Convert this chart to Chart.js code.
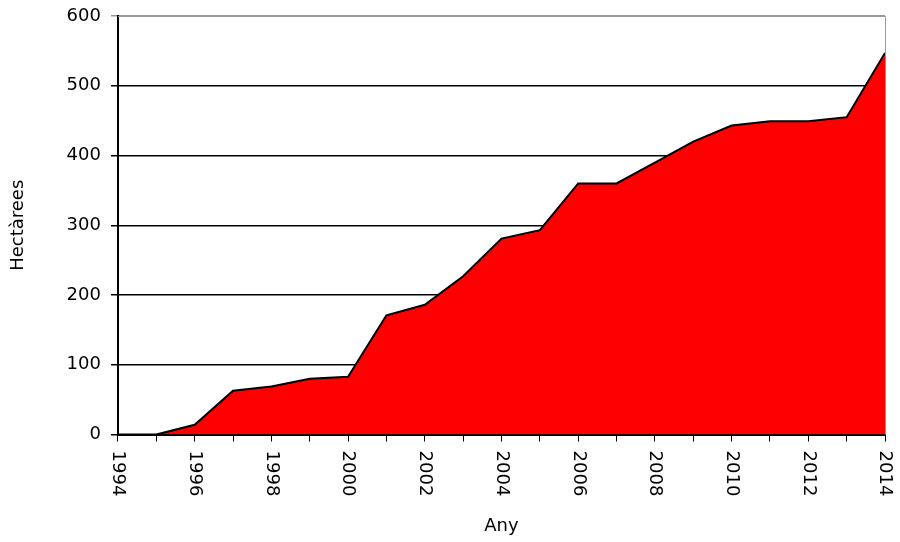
<!DOCTYPE html>
<html lang="ca">
<head>
    <title>Hectàrees per any</title>
    <script src="https://cdn.jsdelivr.net/npm/chart.js"></script>
    <style>
        body { margin: 0; background: #fff; }
        #wrap { width: 900px; height: 542px; }
    </style>
</head>
<body>
    <div id="wrap"><canvas id="areaChart" width="900" height="542"></canvas></div>

    <script>
        var years = ['1994', '1995', '1996', '1997', '1998', '1999', '2000', '2001', '2002', '2003', '2004',
                     '2005', '2006', '2007', '2008', '2009', '2010', '2011', '2012', '2013', '2014'];
        var hectares = [0, 0, 14, 63, 69, 80, 83, 171, 186, 227, 281,
                        293, 360, 360, 390, 420, 443, 449, 449, 455, 547];
        var yTicks = [0, 100, 200, 300, 400, 500, 600];

        var fontFamily = '"DejaVu Sans", sans-serif';

        // draws the x labels turned clockwise (reading top to bottom) + grey frame
        var customDraw = {
            id: 'customDraw',
            afterDraw: function(chart) {
                var c = chart.ctx;
                var area = chart.chartArea;
                var xs = chart.scales.x;
                c.save();
                c.strokeStyle = '#999999';
                c.lineWidth = 1;
                c.beginPath();
                c.moveTo(area.left, area.top + 0.5);
                c.lineTo(area.right + 0.5, area.top + 0.5);
                c.lineTo(area.right + 0.5, area.bottom);
                c.stroke();
                c.fillStyle = '#000';
                c.font = '18px ' + fontFamily;
                c.textAlign = 'left';
                c.textBaseline = 'middle';
                for (var i = 0; i < years.length; i += 2) {
                    var x = xs.getPixelForValue(i);
                    c.save();
                    c.translate(x, area.bottom + 16);
                    c.rotate(Math.PI / 2);
                    c.fillText(years[i], 0, 0);
                    c.restore();
                }
                c.restore();
            }
        };

        var ctx = document.getElementById('areaChart').getContext('2d');
        var myChart = new Chart(ctx, {
            type: 'line',
            data: {
                labels: years,
                datasets: [{
                    label: 'Hectàrees',
                    data: hectares,
                    backgroundColor: '#ff0000',
                    borderColor: '#000000',
                    borderWidth: 2,
                    fill: 'origin',
                    pointRadius: 0,
                    tension: 0
                }]
            },
            options: {
                responsive: false,
                animation: false,
                layout: { padding: { top: 16, right: 15, left: 8, bottom: 5 } },
                plugins: {
                    legend: { display: false },
                    tooltip: { enabled: false }
                },
                scales: {
                    x: {
                        offset: false,
                        afterFit: function(axis) { axis.paddingLeft = 0; axis.paddingRight = 0; },
                        grid: {
                            drawOnChartArea: false,
                            drawTicks: true,
                            tickLength: 7,
                            color: '#000'
                        },
                        border: { color: '#000', width: 2 },
                        ticks: {
                            autoSkip: false,
                            minRotation: 90,
                            maxRotation: 90,
                            color: 'rgba(0,0,0,0)',
                            padding: 4,
                            font: { size: 18, family: fontFamily },
                            callback: function(v, i) { return i % 2 === 0 ? years[i] : ''; }
                        },
                        title: {
                            display: true,
                            text: 'Any',
                            color: '#000',
                            padding: { top: 20, bottom: 0 },
                            font: { size: 18, family: fontFamily }
                        }
                    },
                    y: {
                        min: 0,
                        max: 600,
                        afterBuildTicks: function(axis) {
                            axis.ticks = yTicks.map(function(v) { return { value: v }; });
                        },
                        afterFit: function(axis) { axis.paddingTop = 0; axis.paddingBottom = 0; },
                        grid: {
                            color: function(c) {
                                if (c.tick && c.tick.value === 600) return '#999999';
                                return '#000';
                            },
                            lineWidth: 1.5,
                            drawTicks: true,
                            tickLength: 7
                        },
                        border: { color: '#000', width: 2 },
                        ticks: {
                            color: '#000',
                            padding: 10,
                            font: { size: 18, family: fontFamily }
                        },
                        title: {
                            display: true,
                            text: 'Hectàrees',
                            color: '#000',
                            padding: { top: 0, bottom: 27 },
                            font: { size: 18, family: fontFamily }
                        }
                    }
                }
            },
            plugins: [customDraw]
        });
    </script>
</body>
</html>
